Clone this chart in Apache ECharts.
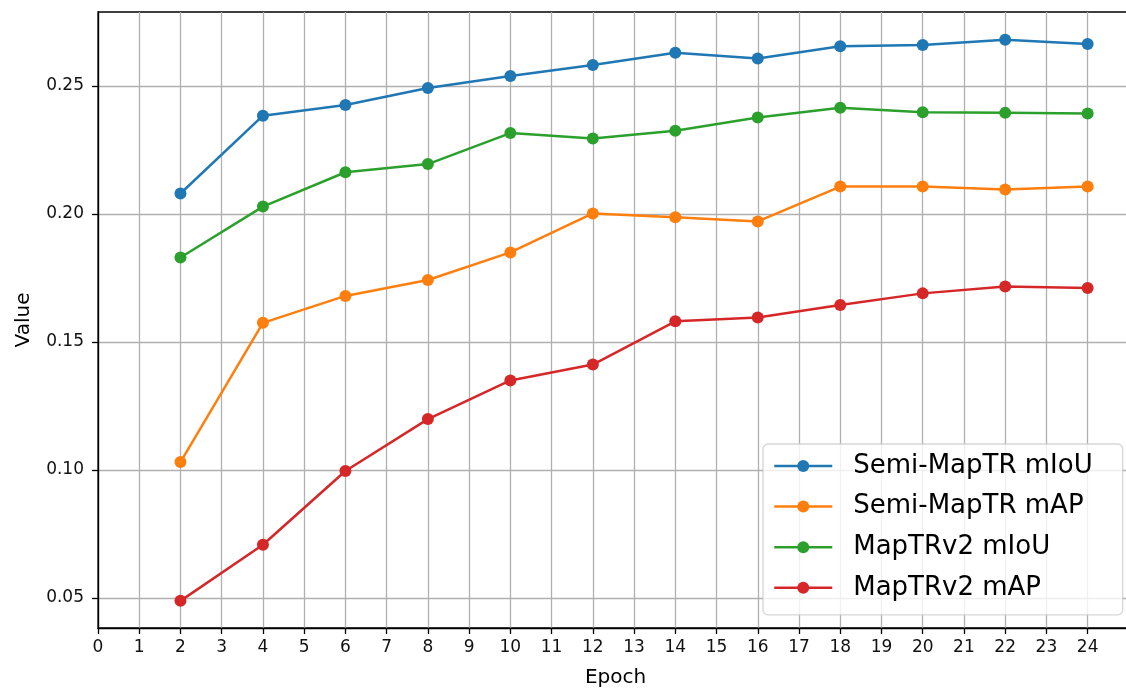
<!DOCTYPE html>
<html>
<head>
<meta charset="utf-8">
<script src="https://cdn.jsdelivr.net/npm/echarts@6/dist/echarts.min.js"></script>
<style>
html,body{margin:0;padding:0;background:#fff;}
#chart{width:1126px;height:689px;}
</style>
</head>
<body>
<div id="chart"></div>
<script>
const epochs = [2, 4, 6, 8, 10, 12, 14, 16, 18, 20, 22, 24];
const semiMapTRmIoU = [0.2080, 0.2384, 0.2426, 0.2492, 0.2539, 0.2582, 0.2630, 0.2607, 0.2655, 0.2660, 0.2681, 0.2664];
const semiMapTRmAP  = [0.1031, 0.1575, 0.1680, 0.1742, 0.1850, 0.2002, 0.1987, 0.1971, 0.2107, 0.2107, 0.2096, 0.2107];
const mapTRv2mIoU   = [0.1830, 0.2029, 0.2163, 0.2195, 0.2316, 0.2295, 0.2325, 0.2377, 0.2415, 0.2397, 0.2395, 0.2393];
const mapTRv2mAP    = [0.0489, 0.0708, 0.0996, 0.1199, 0.1350, 0.1412, 0.1581, 0.1596, 0.1645, 0.1690, 0.1717, 0.1711];
const seriesNames = ['Semi-MapTR mIoU', 'Semi-MapTR mAP', 'MapTRv2 mIoU', 'MapTRv2 mAP'];
const seriesColors = ['#1f77b4', '#ff7f0e', '#2ca02c', '#d62728'];
const seriesValues = [semiMapTRmIoU, semiMapTRmAP, mapTRv2mIoU, mapTRv2mAP];
const xTicks = [0, 1, 2, 3, 4, 5, 6, 7, 8, 9, 10, 11, 12, 13, 14, 15, 16, 17, 18, 19, 20, 21, 22, 23, 24];
const yTicks = [0.05, 0.10, 0.15, 0.20, 0.25];

const FONT = 'DejaVu Sans';
const chart = echarts.init(document.getElementById('chart'), null, {renderer: 'canvas'});

const option = {
  backgroundColor: '#ffffff',
  animation: false,
  textStyle: {fontFamily: FONT},
  grid: {
    left: 98, top: 12, width: 1035, height: 616,
    containLabel: false, outerBoundsMode: 'none',
    show: true, borderColor: '#000', borderWidth: 1.3, backgroundColor: 'transparent'
  },
  legend: {
    orient: 'vertical',
    left: 763, top: 444,
    padding: [7, 30, 12, 10],
    itemWidth: 58, itemHeight: 15,
    itemGap: 10.6,
    backgroundColor: 'rgba(255,255,255,0.8)',
    borderColor: 'rgba(204,204,204,0.8)',
    borderWidth: 1.3,
    borderRadius: 5,
    lineStyle: {width: 2.5},
    textStyle: {fontFamily: FONT, fontSize: 26, color: '#000', lineHeight: 30, padding: [0, 0, 0, 16]},
    data: seriesNames
  },
  xAxis: {
    type: 'value',
    min: 0, max: 25.1, interval: 1,
    name: 'Epoch', nameLocation: 'middle', nameGap: 40,
    nameTextStyle: {fontFamily: FONT, fontSize: 20, color: '#000'},
    axisLine: {show: true, onZero: false, lineStyle: {color: '#000', width: 1.3}},
    axisTick: {show: true, inside: false, length: 6, customValues: xTicks, lineStyle: {color: '#000', width: 1.3}},
    axisLabel: {
      fontFamily: FONT, fontSize: 17, color: '#111', margin: 11,
      customValues: xTicks,
      formatter: v => String(v)
    },
    splitLine: {show: true, lineStyle: {color: '#b0b0b0', width: 1.3}}
  },
  yAxis: {
    type: 'value',
    min: 0.0383, max: 0.2789,
    splitNumber: 5,
    name: 'Value', nameLocation: 'middle', nameGap: 64,
    nameTextStyle: {fontFamily: FONT, fontSize: 20, color: '#000'},
    axisLine: {show: true, onZero: false, lineStyle: {color: '#000', width: 1.3}},
    axisTick: {show: true, inside: false, length: 6, customValues: yTicks, lineStyle: {color: '#000', width: 1.3}},
    axisLabel: {
      fontFamily: FONT, fontSize: 17, color: '#111', margin: 14,
      customValues: yTicks,
      formatter: v => v.toFixed(2)
    },
    splitLine: {show: true, lineStyle: {color: '#b0b0b0', width: 1.3}}
  },
  series: seriesNames.map((name, k) => ({
    name: name,
    type: 'line',
    data: epochs.map((e, i) => [e, seriesValues[k][i]]),
    symbol: 'circle',
    symbolSize: 12,
    showSymbol: true,
    color: seriesColors[k],
    lineStyle: {color: seriesColors[k], width: 2.5},
    itemStyle: {color: seriesColors[k]},
    z: 2 + k
  }))
};
chart.setOption(option);
</script>
</body>
</html>
